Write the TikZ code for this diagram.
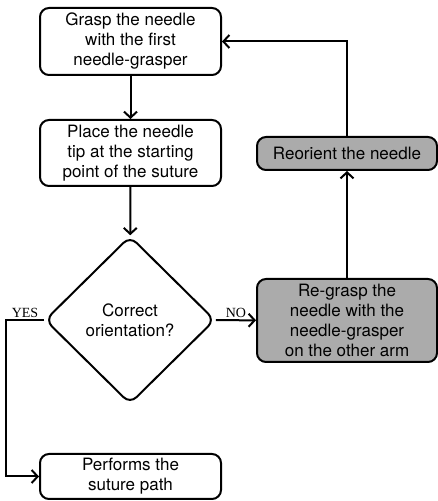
\documentclass[tikz,border=0pt]{standalone}
\usepackage{fontspec}
\setmainfont{TeX Gyre Heros}
\newfontfamily\answerfont{Liberation Serif}
\usetikzlibrary{
    arrows,
    arrows.meta,
    positioning,
    shapes.geometric,
}

\begin{document}
\begin{tikzpicture}[
    x=1pt, y=1pt,
    font=\fontsize{17}{20}\selectfont,
    >={Straight Barb[length=6pt, width=13pt]},
    stepbox/.style={draw, line width=2pt, rounded corners=9pt, align=center, minimum width=181pt, inner sep=2pt, fill=white},
    fixbox/.style={stepbox, fill=black!33},
    decision/.style={draw, diamond, line width=2pt, rounded corners=9pt, align=center, minimum width=170pt, minimum height=168pt, inner sep=0pt, fill=white},
    answer/.style={font=\answerfont\fontsize{14}{16}\selectfont, inner sep=1.5pt},
    flow/.style={->, line width=2pt},
    ]
\useasboundingbox (0,0) rectangle (437,501);

\node[stepbox, minimum height=67pt] at (130.5,459.5) (grasp)
    {Grasp the needle\\with the first\\needle-grasper};

\node[stepbox, minimum height=66pt] at (130.5,348) (place)
    {Place the needle\\tip at the starting\\point of the suture};

\node[decision] at (130,181) (check)
    {Correct\\orientation?};

\node[fixbox, minimum width=180pt, minimum height=83pt] at (347,180.5) (regrasp)
    {Re-grasp the\\needle with the\\needle-grasper\\on the other arm};

\node[fixbox, minimum width=180pt, minimum height=33pt] at (347,347.5) (reorient)
    {Reorient the needle};

\node[stepbox, minimum height=45pt] at (130.5,24.5) (suture)
    {Performs the\\suture path};

\coordinate (side) at (6,181);

\draw[flow] (grasp) -- (place);
\draw[flow] (place) -- (check);
\draw[flow] (check) -- (regrasp) node[midway, above, answer] {NO};
\draw[flow] (regrasp) -- (reorient);
\draw[flow] (reorient.north) |- (grasp.east);
\draw[flow] (check.west) -- (side) node[midway, above, answer] {YES}
    |- (suture.west);

\end{tikzpicture}
\end{document}
